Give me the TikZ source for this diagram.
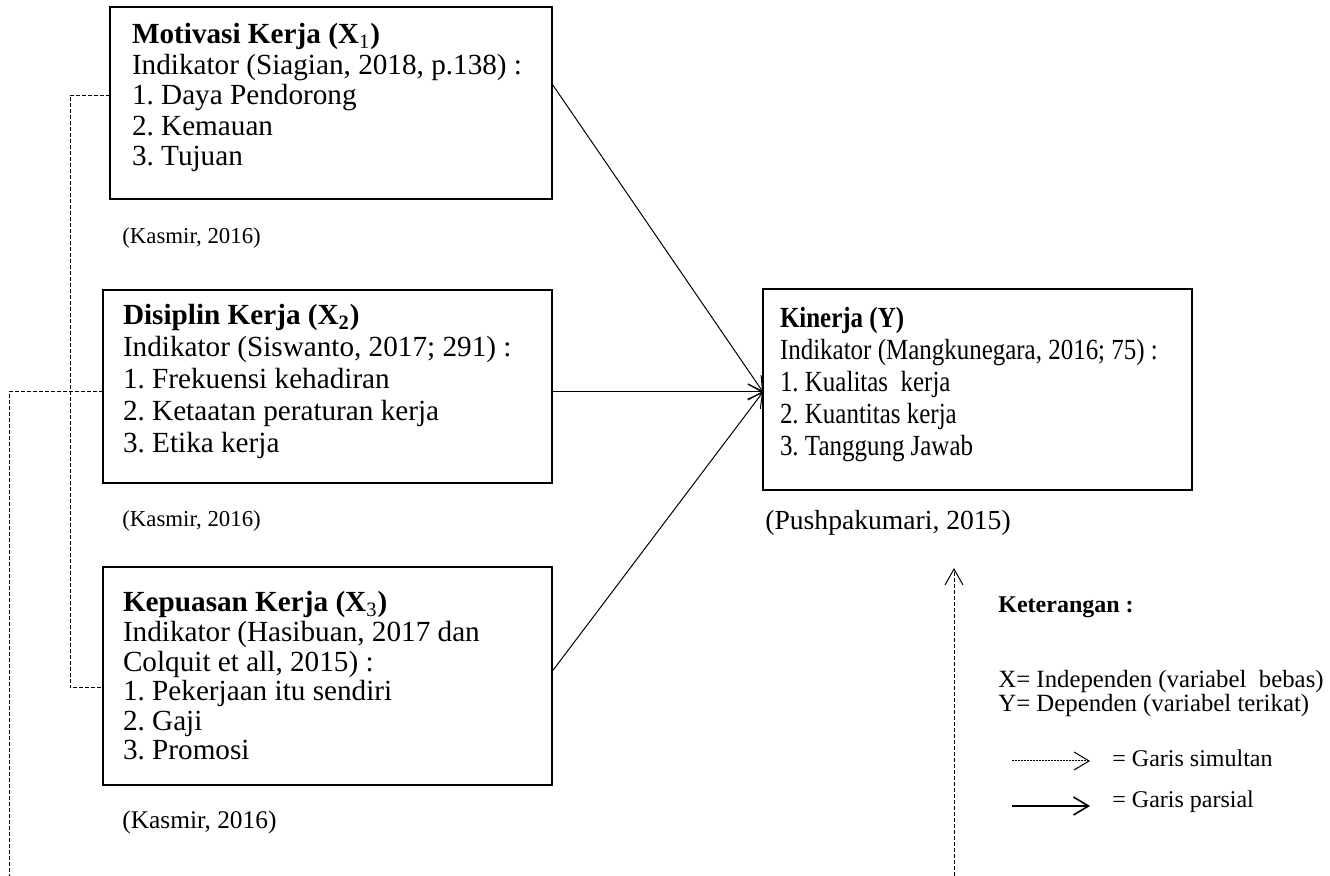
\documentclass[tikz,border=0pt]{standalone}
\usepackage{fontspec}
\usepackage{graphicx}
\setmainfont{Liberation Serif}
\usetikzlibrary{arrows.meta,calc}
\newcommand\btext[3]{\fontsize{#1}{#2}\selectfont\begin{tabular}[t]{@{}l@{}}#3\end{tabular}}
\frenchspacing
\begin{document}
\begin{tikzpicture}[x=0.5pt,y=-0.5pt,
  box/.style={draw, line width=0.6pt, inner sep=0pt, outer sep=0pt, anchor=north west},
  txt/.style={anchor=base west, inner sep=0pt, outer sep=0pt},
  conn/.style={line width=0.5pt, -{Straight Barb[length=7pt,width=8pt]}},
  sim/.style={line width=0.5pt, dash pattern=on 2pt off 1pt},
  simfine/.style={line width=0.5pt, dash pattern=on 1pt off 0.5pt},
  lg/.style={anchor=base west, inner sep=0pt, font=\fontsize{12}{12}\selectfont},
  cite/.style={anchor=base west, inner sep=0pt}
]
\useasboundingbox (0,0) rectangle (1330,876);

% boxes
\node[box, minimum width=221pt, minimum height=96pt] (b1) at (110,7) {};
\node[box, minimum width=224.5pt, minimum height=96.5pt] (b2) at (103,290) {};
\node[box, minimum width=224.5pt, minimum height=109pt] (b3) at (103,567) {};
\node[box, minimum width=214.5pt, minimum height=100.5pt] (by) at (763,289) {};

% box texts
\node[txt] (t1) at (132,44) {\btext{14.6}{15.25pt}{\textbf{Motivasi Kerja (X\textsubscript{\mdseries 1})}\\
 Indikator (Siagian, 2018, p.138) :\\ 1. Daya Pendorong\\ 2. Kemauan\\ 3. Tujuan}};
\node[txt] (t2) at (123,325) {\btext{14.6}{15.9pt}{\textbf{Disiplin Kerja (X\textsubscript{2})}\\
 Indikator (Siswanto, 2017; 291) :\\ 1. Frekuensi kehadiran\\ 2. Ketaatan peraturan kerja\\ 3. Etika kerja}};
\node[txt] (t3) at (123,612) {\btext{14.6}{14.8pt}{\textbf{Kepuasan Kerja (X\textsubscript{\mdseries 3})}\\
 Indikator (Hasibuan, 2017 dan\\ Colquit et all, 2015) :\\ 1. Pekerjaan itu sendiri\\ 2. Gaji\\ 3. Promosi}};
\node[txt] (ty) at (780,328) {\scalebox{0.855}[1]{\btext{14.6}{16pt}{\textbf{Kinerja (Y)}\\
 Indikator (Mangkunegara, 2016; 75) :\\ 1. Kualitas~ kerja\\ 2. Kuantitas kerja\\ 3. Tanggung Jawab}}};

% citations
\node[cite, font=\fontsize{11.4}{12}\selectfont] (k1) at (122,244) {(Kasmir, 2016)};
\node[cite, font=\fontsize{11.4}{12}\selectfont] (k2) at (122,527) {(Kasmir, 2016)};
\node[cite, font=\fontsize{12.7}{13}\selectfont] (k3) at (122,829) {(Kasmir, 2016)};
\node[cite, font=\fontsize{13.8}{14}\selectfont] (kp) at (765,530) {(Pushpakumari, 2015)};

% partial arrows
\coordinate (tip) at (763,392);
\draw[conn] ($(b1.north east)!0.4!(b1.south east)$) -- (tip);
\draw[conn] (b2.east |- tip) -- (tip);
\draw[conn] ($(b3.north east)!0.48!(b3.south east)$) -- (tip);

% simultaneous lines
\draw[sim] ($(b1.north west)!0.46!(b1.south west)$) -- ++(-40,0) |- ($(b3.north west)!0.555!(b3.south west)$);
\coordinate (lb) at (9,876);
\draw[sim] (b2.west |- tip) -| (lb);
\coordinate (ua) at (954,876);
\coordinate (ub) at (954,568);
\draw[sim, -{Straight Barb[length=8pt,width=9pt]}] (ua) -- (ub);

% legend
\node[lg, font=\fontsize{12}{12}\selectfont\bfseries] (ket) at (998,613) {Keterangan :};
\node[lg, font=\fontsize{12.4}{12}\selectfont] (lx) at (998,688) {X= Independen (variabel~ bebas)};
\node[lg, font=\fontsize{12.4}{12}\selectfont] (ly) at (998,712) {Y= Dependen (variabel terikat)};
\coordinate (la1) at (1012,761);
\coordinate (la2) at (1090,761);
\coordinate (lb1) at (1012,806);
\coordinate (lb2) at (1090,806);
\draw[simfine, -{Straight Barb[length=7.5pt,width=9pt]}] (la1) -- (la2);
\draw[line width=0.8pt, -{Straight Barb[length=7.5pt,width=9pt]}] (lb1) -- (lb2);
\node[lg] (ls) at (1112,767) {= Garis simultan};
\node[lg] (lp) at (1112,808) {= Garis parsial};
\end{tikzpicture}
\end{document}
